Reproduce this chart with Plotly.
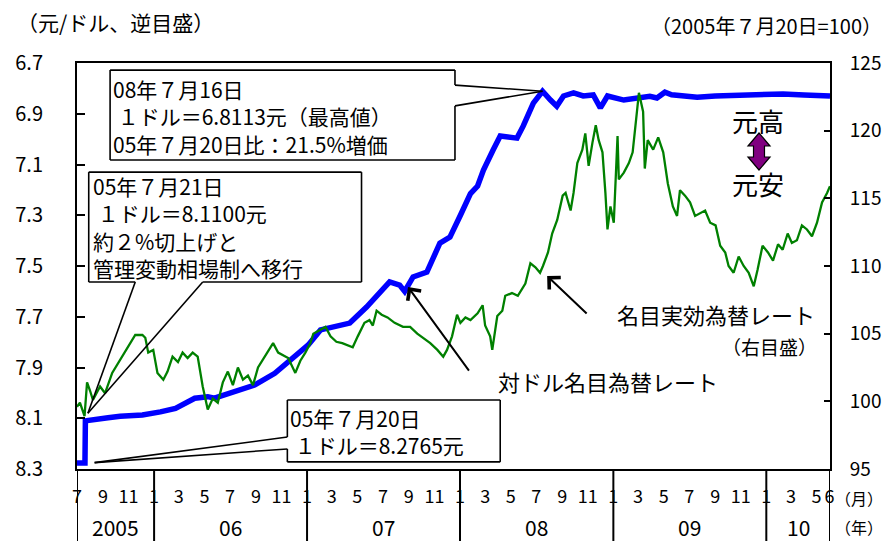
import pandas as pd
import plotly.graph_objects as go

# ---------------- data ----------------
usd_dates = [
    "2005-07-01", "2005-07-20", "2005-07-21", "2005-08-25", "2005-09-13", "2005-10-12",
    "2005-12-04", "2006-01-16", "2006-02-21", "2006-04-08", "2006-05-09", "2006-05-25",
    "2006-07-12", "2006-08-29", "2006-10-16", "2006-12-04", "2007-01-04", "2007-02-02",
    "2007-03-10", "2007-04-13", "2007-05-23", "2007-06-23", "2007-07-17", "2007-08-10",
    "2007-08-22", "2007-09-11", "2007-10-14", "2007-11-14", "2007-12-08", "2008-01-02",
    "2008-01-26", "2008-02-12", "2008-02-26", "2008-03-20", "2008-04-06", "2008-05-16",
    "2008-05-31", "2008-06-24", "2008-07-16", "2008-08-04", "2008-08-19", "2008-09-04",
    "2008-09-28", "2008-10-21", "2008-11-14", "2008-12-01", "2008-12-18", "2009-01-26",
    "2009-02-28", "2009-03-29", "2009-04-15", "2009-05-04", "2009-05-20", "2009-06-20",
    "2009-07-20", "2009-09-01", "2009-10-15", "2009-12-15", "2010-02-10", "2010-04-01",
    "2010-05-15", "2010-06-02",
]
usd_rate = [
    8.2765, 8.2765, 8.1100, 8.100, 8.098, 8.092,
    8.087, 8.075, 8.061, 8.021, 8.015, 8.021,
    7.995, 7.969, 7.923, 7.857, 7.811, 7.752,
    7.740, 7.725, 7.662, 7.606, 7.563, 7.575,
    7.600, 7.543, 7.524, 7.410, 7.386, 7.300,
    7.215, 7.185, 7.122, 7.043, 6.988, 6.996,
    6.948, 6.858, 6.8113, 6.846, 6.870, 6.830,
    6.818, 6.830, 6.826, 6.877, 6.830, 6.846,
    6.838, 6.831, 6.838, 6.815, 6.825, 6.831,
    6.835, 6.830, 6.827, 6.825, 6.822, 6.826,
    6.827, 6.830,
]

neer_dates = [
    "2005-07-01", "2005-07-08", "2005-07-19", "2005-07-25", "2005-08-01", "2005-08-08",
    "2005-08-25", "2005-09-06", "2005-09-23", "2005-10-07", "2005-10-24", "2005-11-10",
    "2005-11-17", "2005-12-04", "2005-12-11", "2005-12-18", "2005-12-30", "2006-01-09",
    "2006-01-23", "2006-02-02", "2006-02-14", "2006-02-27", "2006-03-10", "2006-03-22",
    "2006-04-03", "2006-04-15", "2006-04-27", "2006-05-09", "2006-05-21", "2006-06-02",
    "2006-06-14", "2006-06-26", "2006-07-08", "2006-07-20", "2006-08-01", "2006-08-13",
    "2006-08-25", "2006-09-06", "2006-09-18", "2006-09-30", "2006-10-12", "2006-10-24",
    "2006-11-05", "2006-11-17", "2006-12-04", "2006-12-16", "2006-12-28", "2007-01-09",
    "2007-01-16", "2007-02-02", "2007-02-14", "2007-02-26", "2007-03-12", "2007-03-26",
    "2007-04-20", "2007-05-02", "2007-05-18", "2007-05-30", "2007-06-07", "2007-06-16",
    "2007-06-28", "2007-07-12", "2007-07-29", "2007-08-18", "2007-09-04", "2007-09-21",
    "2007-10-05", "2007-10-22", "2007-11-08", "2007-11-22", "2007-12-01", "2007-12-13",
    "2007-12-25", "2008-01-02", "2008-01-14", "2008-01-26", "2008-02-12", "2008-02-24",
    "2008-03-01", "2008-03-13", "2008-03-18", "2008-03-30", "2008-04-11", "2008-04-18",
    "2008-05-04", "2008-05-18", "2008-06-05", "2008-06-17", "2008-06-29", "2008-07-10",
    "2008-07-17", "2008-07-29", "2008-08-08", "2008-08-20", "2008-09-02", "2008-09-09",
    "2008-09-21", "2008-09-28", "2008-10-07", "2008-10-19", "2008-10-26", "2008-11-03",
    "2008-11-12", "2008-11-20", "2008-11-27", "2008-12-06", "2008-12-13", "2008-12-18",
    "2008-12-25", "2009-01-02", "2009-01-11", "2009-01-14", "2009-01-26", "2009-02-07",
    "2009-02-16", "2009-02-23", "2009-03-03", "2009-03-13", "2009-03-17", "2009-03-24",
    "2009-04-06", "2009-04-18", "2009-04-30", "2009-05-11", "2009-05-23", "2009-06-02",
    "2009-06-09", "2009-06-21", "2009-07-03", "2009-07-15", "2009-07-27", "2009-08-08",
    "2009-08-20", "2009-09-02", "2009-09-13", "2009-09-25", "2009-10-03", "2009-10-15",
    "2009-10-27", "2009-11-08", "2009-11-20", "2009-12-02", "2009-12-11", "2009-12-23",
    "2010-01-05", "2010-01-17", "2010-01-29", "2010-02-09", "2010-02-21", "2010-03-03",
    "2010-03-15", "2010-03-27", "2010-04-08", "2010-04-20", "2010-05-02", "2010-05-14",
    "2010-05-26", "2010-06-02",
]
neer_values = [
    99.6, 99.9, 98.9, 101.4, 100.8, 100.1,
    101.1, 100.6, 102.1, 102.8, 103.6, 104.5,
    104.9, 104.9, 104.7, 103.6, 103.8, 102.1,
    101.6, 102.2, 103.3, 102.9, 103.6, 103.2,
    103.6, 103.3, 101.1, 99.4, 100.2, 99.9,
    101.4, 102.2, 101.2, 102.5, 101.6, 101.9,
    101.2, 102.5, 103.1, 103.8, 104.3, 103.6,
    103.4, 103.2, 102.1, 103.0, 103.6, 104.3,
    105.0, 105.3, 105.5, 104.8, 104.4, 104.3,
    104.0, 104.8, 105.8, 106.0, 105.6, 106.7,
    106.4, 106.2, 105.8, 105.5, 105.5, 105.0,
    104.7, 104.3, 103.8, 103.3, 103.8, 104.8,
    106.4, 105.8, 106.2, 106.0, 106.5, 107.1,
    105.6, 104.8, 103.8, 106.3, 106.7, 107.8,
    108.0, 107.8, 108.7, 110.2, 109.9, 109.5,
    110.0, 111.0, 112.4, 113.4, 115.2, 115.4,
    114.1, 115.4, 117.6, 118.6, 119.8, 117.4,
    119.1, 120.4, 119.3, 118.4, 115.4, 112.7,
    114.4, 113.2, 119.6, 116.4, 116.9, 117.6,
    118.4, 120.6, 122.8, 121.4, 117.2, 119.3,
    118.6, 119.5, 118.4, 116.1, 114.4, 113.7,
    115.6, 115.2, 114.7, 113.7, 113.9, 114.1,
    113.2, 113.0, 111.5, 111.0, 110.0, 109.5,
    110.7, 110.0, 109.5, 108.5, 109.7, 111.5,
    111.0, 110.4, 111.6, 111.2, 112.4, 111.7,
    111.9, 113.0, 112.7, 112.2, 113.2, 114.7,
    115.4, 115.9,
]

left_ticks = [6.7, 6.9, 7.1, 7.3, 7.5, 7.7, 7.9, 8.1, 8.3]
right_ticks = [95, 100, 105, 110, 115, 120, 125]

month_tick_dates = [
    "2005-07-01", "2005-09-01", "2005-11-01",
    "2006-01-01", "2006-03-01", "2006-05-01", "2006-07-01", "2006-09-01", "2006-11-01",
    "2007-01-01", "2007-03-01", "2007-05-01", "2007-07-01", "2007-09-01", "2007-11-01",
    "2008-01-01", "2008-03-01", "2008-05-01", "2008-07-01", "2008-09-01", "2008-11-01",
    "2009-01-01", "2009-03-01", "2009-05-01", "2009-07-01", "2009-09-01", "2009-11-01",
    "2010-01-01", "2010-03-01", "2010-05-01", "2010-06-01",
]
month_tick_labels = [
    "7", "9", "11",
    "1", "3", "5", "7", "9", "11",
    "1", "3", "5", "7", "9", "11",
    "1", "3", "5", "7", "9", "11",
    "1", "3", "5", "7", "9", "11",
    "1", "3", "5", "6",
]
year_starts = ["2005-07-01", "2006-01-01", "2007-01-01", "2008-01-01", "2009-01-01", "2010-01-01"]
year_labels = ["2005", "06", "07", "08", "09", "10"]
x_start, x_end = "2005-07-01", "2010-06-02"

box1_lines = ["08年７月16日", "\u00a0１ドル＝6.8113元（最高値）", "05年７月20日比：21.5%増価"]
box2_lines = ["05年７月21日", "\u00a0１ドル＝8.1100元", "約２%切上げと", "管理変動相場制へ移行"]
box3_lines = ["05年７月20日", "\u00a0１ドル＝8.2765元"]

# ---------------- layout geometry ----------------
W, H = 885, 541
ML, MR, MT, MB = 77, 55, 63, 72
PW, PH = W - ML - MR, H - MT - MB
FONT = "Noto Sans CJK JP"


def pxx(px):
    return (px - ML) / PW


def pxy(py):
    return (H - MB - py) / PH


fig = go.Figure()
fig.add_trace(go.Scatter(
    x=pd.to_datetime(neer_dates), y=neer_values, yaxis="y2", mode="lines",
    line=dict(color="#008000", width=2.3), name="名目実効為替レート",
))
fig.add_trace(go.Scatter(
    x=pd.to_datetime(usd_dates), y=usd_rate, yaxis="y", mode="lines",
    line=dict(color="#0000ff", width=5.5), name="対ドル名目為替レート",
))

shapes = []
annotations = []


def label(px, py, text, size, anchor="center"):
    annotations.append(dict(x=pxx(px), y=pxy(py), xref="paper", yref="paper", text=text,
                            showarrow=False, xanchor=anchor, yanchor="middle", align="left",
                            borderpad=0, font=dict(size=size)))


# year separators below the axis
sep_dates = year_starts + [x_end]
for d in sep_dates:
    shapes.append(dict(type="line", xref="x", yref="paper", x0=d, x1=d, y0=0, y1=-0.2,
                       line=dict(color="black", width=2)))

# year labels centred in each year's visible span
bounds = [pd.Timestamp(d) for d in sep_dates]
for i, lab in enumerate(year_labels):
    mid = bounds[i] + (bounds[i + 1] - bounds[i]) / 2
    annotations.append(dict(x=mid, y=pxy(527), xref="x", yref="paper", text=lab,
                            showarrow=False, font=dict(size=21), xanchor="center", yanchor="middle"))


def callout(vertices):
    for (xa, ya), (xb, yb) in zip(vertices[:-1], vertices[1:]):
        shapes.append(dict(type="line", xref="x", yref="y", x0=xa, y0=ya, x1=xb, y1=yb,
                           line=dict(color="black", width=1.6)))


# callout box 1: peak
tip1 = ("2008-07-16", 6.8113)
callout([("2005-09-18", 6.728), ("2007-12-20", 6.728), ("2007-12-20", 6.787), tip1,
         ("2007-12-20", 6.869), ("2007-12-20", 7.082), ("2005-09-18", 7.082), ("2005-09-18", 6.728)])
label(112, 117, "<br>".join(box1_lines), 21, "left")

# callout box 2: 21 July 2005
tip2 = ("2005-07-27", 8.08)
callout([("2005-07-29", 7.130), ("2007-05-11", 7.130), ("2007-05-11", 7.563), ("2006-04-27", 7.563), tip2,
         ("2005-11-17", 7.563), ("2005-07-29", 7.563), ("2005-07-29", 7.130)])
label(92, 227, "<br>".join(box2_lines), 21, "left")

# callout box 3: 20 July 2005
tip3 = ("2005-08-12", 8.275)
callout([("2006-11-15", 8.028), ("2008-04-06", 8.028), ("2008-04-06", 8.272), ("2006-11-15", 8.272),
         ("2006-11-15", 8.221), tip3, ("2006-11-15", 8.174), ("2006-11-15", 8.028)])
label(289, 431, "<br>".join(box3_lines), 21, "left")

# series arrows and labels
annotations.append(dict(x="2007-08-30", y=7.583, xref="x", yref="y", ax=62, ay=85, text="",
                        showarrow=True, arrowhead=4, arrowsize=1.6, arrowwidth=2, arrowcolor="black"))
label(497, 381, "対ドル名目為替レート", 22, "left")
annotations.append(dict(x="2008-07-27", y=109.26, xref="x", yref="y2", ax=41, ay=39, text="",
                        showarrow=True, arrowhead=4, arrowsize=1.6, arrowwidth=2, arrowcolor="black"))
label(816, 314, "名目実効為替レート", 22, "right")
label(818, 346, "（右目盛）", 19, "right")

# 元高 / 元安 indicator
label(758, 120, "元高", 26)
label(758, 183, "元安", 26)
arrow_px = [(759, 133), (770, 146), (764.5, 146), (764.5, 157), (770, 157), (759, 170),
            (748, 157), (753.5, 157), (753.5, 146), (748, 146)]
path = "M " + " L ".join(f"{pxx(a):.5f},{pxy(b):.5f}" for a, b in arrow_px) + " Z"
shapes.append(dict(type="path", xref="paper", yref="paper", path=path,
                   fillcolor="#800080", line=dict(color="black", width=1.2)))

# axis titles / units
label(16, 22, "（元/ドル、逆目盛）", 21, "left")
label(883, 25, "（2005年７月20日=100）", 20, "right")
label(884, 498, "（月）", 16, "right")
label(884, 527, "（年）", 16, "right")

fig.update_layout(
    width=W, height=H,
    margin=dict(l=ML, r=MR, t=MT, b=MB, autoexpand=False),
    paper_bgcolor="white", plot_bgcolor="white",
    showlegend=False,
    font=dict(family=FONT, color="black"),
    shapes=shapes, annotations=annotations,
    xaxis=dict(type="date", range=[x_start, x_end], tickvals=month_tick_dates, ticktext=month_tick_labels,
               ticks="", showgrid=False, zeroline=False, showline=True, linecolor="black", linewidth=2,
               mirror=True, tickfont=dict(size=18), ticklabelstandoff=10, tickangle=0),
    yaxis=dict(range=[8.3, 6.7], tickvals=left_ticks, ticktext=[f"{v:.1f}" for v in left_ticks],
               ticks="inside", ticklen=8, tickwidth=2, tickcolor="black", showgrid=False, zeroline=False,
               showline=True, linecolor="black", linewidth=2, tickfont=dict(size=20), ticklabelstandoff=28),
    yaxis2=dict(range=[95, 125], tickvals=right_ticks, overlaying="y", side="right",
                ticks="inside", ticklen=6, tickwidth=2, tickcolor="black", showgrid=False, zeroline=False,
                showline=True, linecolor="black", linewidth=2, tickfont=dict(size=19), ticklabelstandoff=14),
)

fig.write_html("out.html", config={"displayModeBar": False},
               post_script="document.body.style.margin='0';document.body.style.padding='0';")
